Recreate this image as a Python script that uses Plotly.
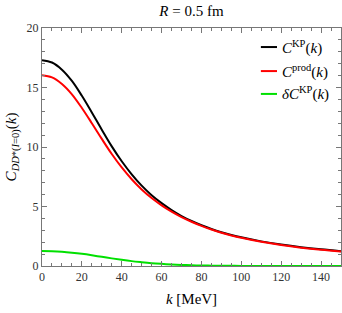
import plotly.graph_objects as go

k = [0, 5, 10, 15, 20, 25, 30, 35, 40, 45, 50, 55, 60, 65, 70, 75, 80, 85, 90, 95, 100,
     110, 120, 130, 140, 150]
c_kp = [17.3, 17.1, 16.5, 15.55, 14.3, 12.9, 11.45, 10.05, 8.8, 7.7, 6.75, 5.95, 5.28, 4.7,
        4.2, 3.78, 3.42, 3.11, 2.84, 2.61, 2.41, 2.07, 1.8, 1.58, 1.4, 1.25]
c_prod = [16.03, 15.85, 15.3, 14.43, 13.28, 12.0, 10.68, 9.41, 8.28, 7.29, 6.43, 5.71, 5.1,
          4.57, 4.11, 3.72, 3.37, 3.07, 2.8, 2.57, 2.37, 2.03, 1.76, 1.54, 1.36, 1.21]
dc_kp = [1.27, 1.25, 1.2, 1.12, 1.02, 0.9, 0.77, 0.64, 0.52, 0.41, 0.32, 0.24, 0.18, 0.13,
         0.09, 0.06, 0.04, 0.03, 0.02, 0.015, 0.01, 0.006, 0.004, 0.003, 0.002, 0.002]

names = ["<i>C</i><sup>KP</sup>(<i>k</i>)",
         "<i>C</i><sup>prod</sup>(<i>k</i>)",
         "<i>δC</i><sup>KP</sup>(<i>k</i>)"]
colors = ["#000000", "#ff0000", "#00e000"]

FONT = "Liberation Serif"

fig = go.Figure()
for ys, nm, col in zip([c_kp, c_prod, dc_kp], names, colors):
    fig.add_trace(go.Scatter(x=k, y=ys, mode="lines", name=nm,
                             line=dict(color=col, width=2, shape="spline", smoothing=1.0),
                             showlegend=False))

# manual legend
leg_y = [0.920, 0.819, 0.723]
for nm, col, yy in zip(names, colors, leg_y):
    fig.add_shape(type="line", xref="paper", yref="paper", x0=0.732, x1=0.786, y0=yy, y1=yy,
                  line=dict(color=col, width=2))
    fig.add_annotation(xref="paper", yref="paper", x=0.796, y=yy, text=nm, showarrow=False,
                       xanchor="left", yanchor="middle",
                       font=dict(family=FONT, size=15, color="#000"))

axis_common = dict(
    showgrid=False, zeroline=False, showline=True, linecolor="#777777", linewidth=1,
    mirror="allticks", ticks="inside", ticklen=5, tickcolor="#777777", tickwidth=1,
    tickfont=dict(family=FONT, size=12, color="#333"), automargin=False,
)

fig.update_xaxes(range=[0, 150], tick0=0, dtick=20,
                 minor=dict(dtick=5, ticks="inside", ticklen=3, tickcolor="#777777",
                            tickwidth=1, showgrid=False),
                 title=dict(text="<i>k</i> [MeV]", font=dict(family=FONT, size=15, color="#000"),
                            standoff=10),
                 **axis_common)
fig.update_yaxes(range=[0, 20], tick0=0, dtick=5,
                 minor=dict(dtick=1, ticks="inside", ticklen=3, tickcolor="#777777",
                            tickwidth=1, showgrid=False),
                 title=dict(text="<i>C</i><sub><i>DD</i>*(<i>I</i>=0)</sub>(<i>k</i>)",
                            font=dict(family=FONT, size=15, color="#000"), standoff=6),
                 **axis_common)

fig.update_layout(
    width=342, height=313,
    margin=dict(l=42, r=1, t=28, b=47),
    paper_bgcolor="white", plot_bgcolor="white",
    title=dict(text="<i>R</i> = 0.5 fm", x=0.56, xanchor="center", y=0.967, yanchor="middle",
               font=dict(family=FONT, size=15, color="#000")),
)

fig.write_html("out.html", config={"displayModeBar": False})
with open("out.html", encoding="utf-8") as f:
    html = f.read()
html = html.replace("<head>", "<head><style>html,body{margin:0;padding:0;overflow:hidden;}</style>", 1)
with open("out.html", "w", encoding="utf-8") as f:
    f.write(html)
